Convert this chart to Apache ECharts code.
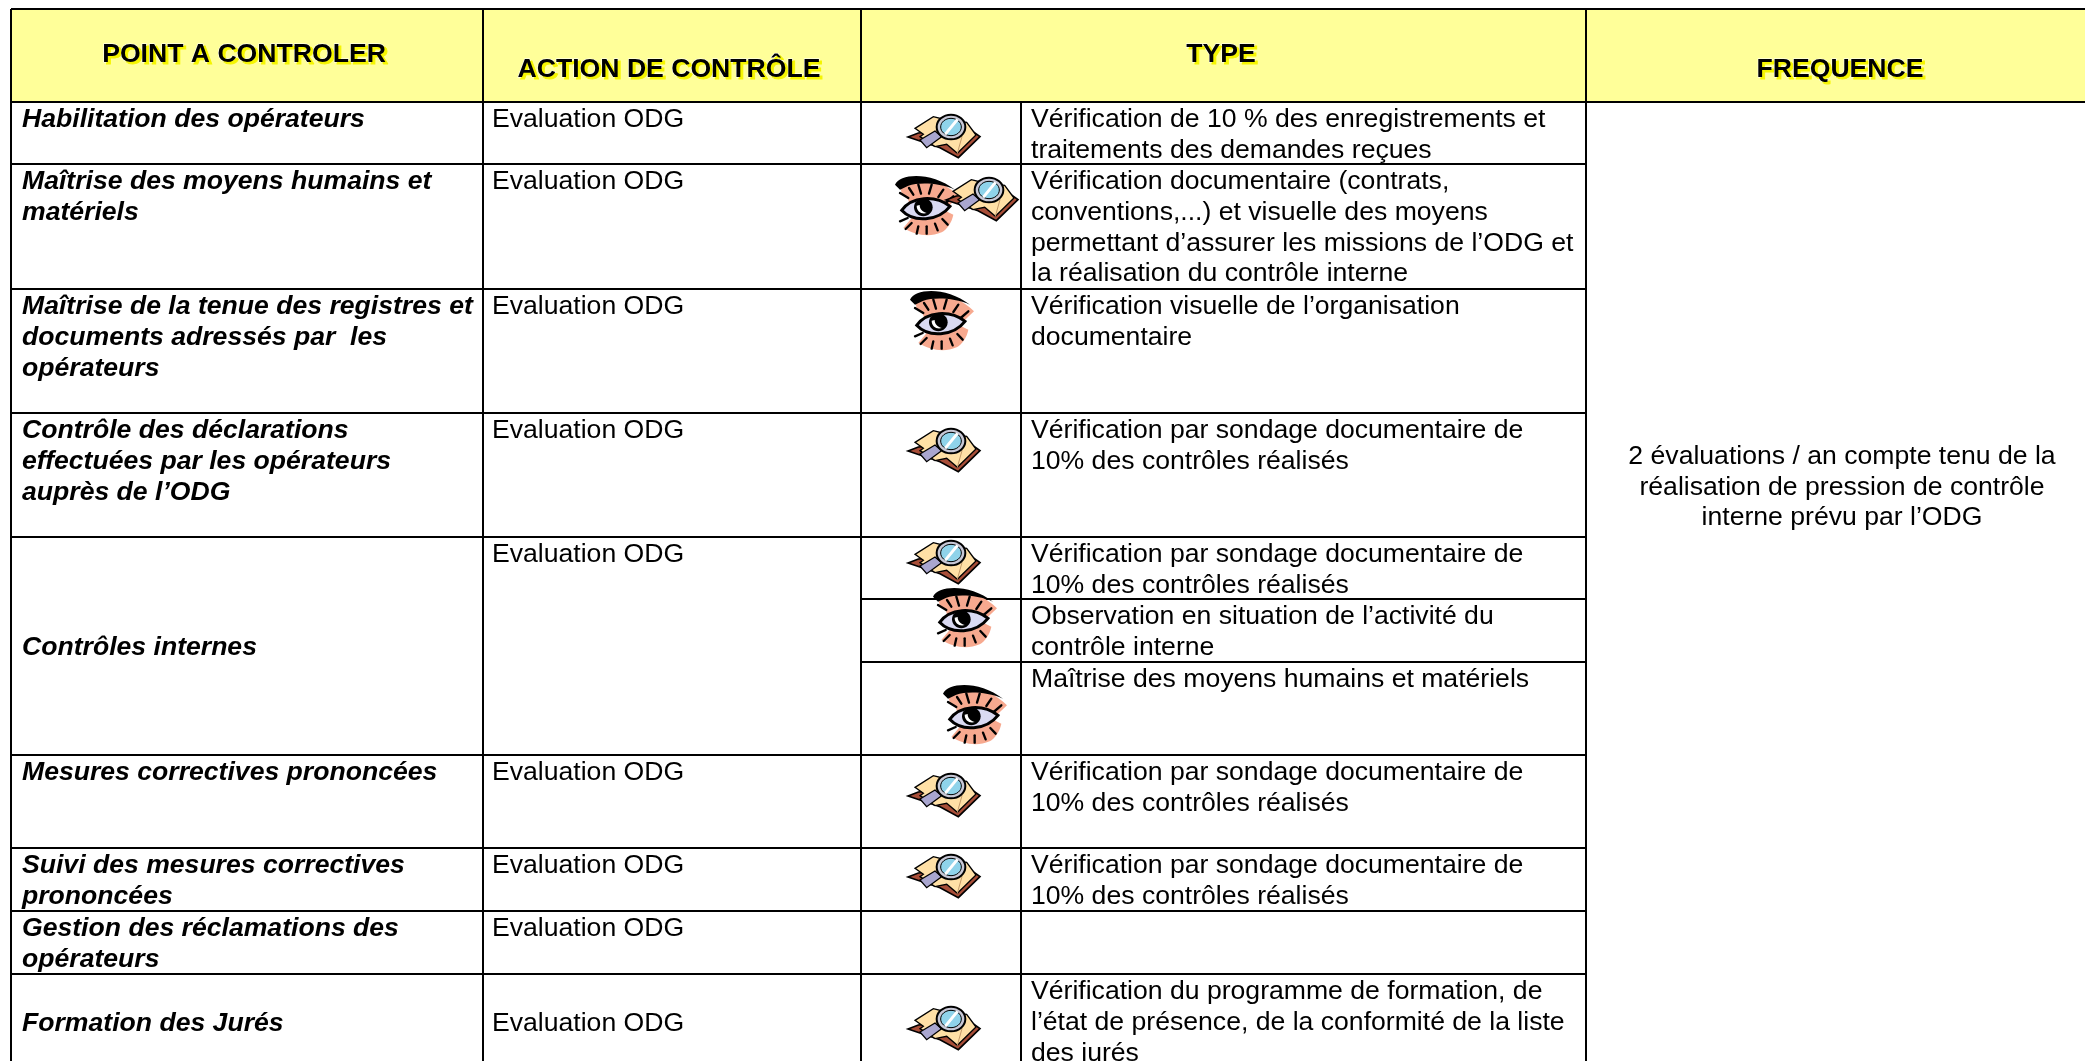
<!DOCTYPE html>
<html>
<head>
<meta charset="utf-8">
<title>Points a controler</title>
<style>
    html, body { margin: 0; padding: 0; background: #fff; }
    #main { width: 2085px; height: 1061px; }
</style>
<script src="https://cdn.jsdelivr.net/npm/echarts@6/dist/echarts.min.js"></script>
</head>
<body>
<div id="main"></div>
<script>
// contenu du tableau
var headers = ['POINT A CONTROLER', 'ACTION DE CONTRÔLE', 'TYPE', 'FREQUENCE'];
var points = [
    'Habilitation des opérateurs',
    'Maîtrise des moyens humains et\nmatériels',
    'Maîtrise de la tenue des registres et\ndocuments adressés par  les\nopérateurs',
    'Contrôle des déclarations\neffectuées par les opérateurs\nauprès de l’ODG',
    'Contrôles internes',
    'Mesures correctives prononcées',
    'Suivi des mesures correctives\nprononcées',
    'Gestion des réclamations des\nopérateurs',
    'Formation des Jurés'
];
var actions = [
    'Evaluation ODG', 'Evaluation ODG', 'Evaluation ODG', 'Evaluation ODG', 'Evaluation ODG',
    'Evaluation ODG', 'Evaluation ODG', 'Evaluation ODG', 'Evaluation ODG'
];
var verifications = [
    'Vérification de 10 % des enregistrements et\ntraitements des demandes reçues',
    'Vérification documentaire (contrats,\nconventions,...) et visuelle des moyens\npermettant d’assurer les missions de l’ODG et\nla réalisation du contrôle interne',
    'Vérification visuelle de l’organisation\ndocumentaire',
    'Vérification par sondage documentaire de\n10% des contrôles réalisés',
    'Vérification par sondage documentaire de\n10% des contrôles réalisés',
    'Observation en situation de l’activité du\ncontrôle interne',
    'Maîtrise des moyens humains et matériels',
    'Vérification par sondage documentaire de\n10% des contrôles réalisés',
    'Vérification par sondage documentaire de\n10% des contrôles réalisés',
    '',
    'Vérification du programme de formation, de\nl’état de présence, de la conformité de la liste\ndes jurés'
];
var typeIcons = [
    ['book'], ['eye', 'book'], ['eye'], ['book'], ['book'], ['eye'], ['eye'], ['book'], ['book'], [], ['book']
];
var frequence = '2 évaluations / an compte tenu de la\nréalisation de pression de contrôle\ninterne prévu par l’ODG';

// mise en page, en pixels de la page
var W = 2085, H = 1061;
var colX = [11, 483, 861, 1021, 1586];
var topY = 9, headY = 102;
var rowY = [102, 164, 289, 413, 537, 755, 848, 911, 974];
var subRowY = [102, 164, 289, 413, 537, 599, 662, 755, 848, 911, 974];
var headPos = [[244, 54.5], [669, 69.5], [1221, 54.5], [1840, 69.5]];
var iconPos = [
    [[909, 114]], [[896, 176], [947, 177]], [[911, 291]], [[909, 428]], [[909, 540]],
    [[934, 588]], [[944, 685]], [[909, 773]], [[909, 854]], [], [[909, 1006]]
];
var LINE = 30.7, FONT = '26.6px "Liberation Sans", Arial, sans-serif';

// traits du tableau
var rules = [
    [colX[0], topY, W, topY], [colX[0], headY, W, headY],
    [colX[0], topY, colX[0], H], [colX[1], topY, colX[1], H], [colX[2], topY, colX[2], H],
    [colX[4], topY, colX[4], H], [colX[3], headY, colX[3], H]
];
rowY.slice(1).forEach(function (y) {
    rules.push([colX[0], y, colX[4], y]);
});
// sous-lignes de la ligne Controles internes, seulement dans la colonne Type
[599, 662].forEach(function (y) {
    rules.push([colX[2], y, colX[4], y]);
});

// textes : une entree par cellule
var cells = [];
function addCell(text, x, y, align, font) {
    if (text) cells.push({text: text, x: x, y: y + 1.5, align: align, font: font});
}
points.forEach(function (t, i) {
    var y = i === 4 ? 646.5 : i === 8 ? 1022 : rowY[i] + 16.5;
    addCell(t, colX[0] + 11, y, 'left', 'italic bold ' + FONT);
});
actions.forEach(function (t, i) {
    var y = i === 8 ? 1022 : rowY[i] + 16.5;
    addCell(t, colX[1] + 9, y, 'left', FONT);
});
verifications.forEach(function (t, i) {
    addCell(t, colX[3] + 10, subRowY[i] + 16.5, 'left', FONT);
});
addCell(frequence, 1842, 455, 'center', FONT);

// dessins des pictogrammes (coordonnees x3, ramenees a l'echelle a la fin)
var OUTLINE = '#000';
function pathPart(d, fill, lw) {
    return {type: 'path', shape: {pathData: d}, style: {fill: fill, stroke: lw ? OUTLINE : null, lineWidth: lw || 0}};
}
function strokePart(x1, y1, x2, y2, color, lw) {
    return {type: 'line', shape: {x1: x1, y1: y1, x2: x2, y2: y2}, style: {stroke: color, lineWidth: lw, lineCap: 'round'}};
}
function ellipsePart(cx, cy, rx, ry, fill, lw) {
    return {type: 'ellipse', shape: {cx: cx, cy: cy, rx: rx, ry: ry}, style: {fill: fill, stroke: lw ? OUTLINE : null, lineWidth: lw || 0}};
}
function bookParts() {
    return [
        pathPart('M24 96 L55 84 L205 70 L240 95 L175 158 L120 128 Z', '#A84E38', 5),
        pathPart('M45 70 L100 35 L140 45 L200 52 L228 90 L172 145 L140 118 L105 125 L60 95 L70 88 Z', '#FFE0A6', 4),
        strokePart(172, 145, 186, 95, '#C49A6A', 3),
        pathPart('M60 105 L105 78 L125 95 L80 128 Z', '#A9A6CF', 4),
        ellipsePart(153, 66, 43, 37, '#C8C8D6', 6),
        ellipsePart(153, 66, 31, 26, '#8FD3EA', 3),
        strokePart(138, 85, 170, 46, '#fff', 9)
    ];
}
function eyeParts() {
    var parts = [
        pathPart('M45 40 C90 10 170 15 222 70 L178 112 L205 125 C200 150 185 170 170 178 C130 195 90 185 55 165 L80 135 L70 80 L50 60 Z', '#F7A98F'),
        pathPart('M30 35 C45 0 140 -5 210 50 C160 28 100 28 70 38 L45 50 Z', '#000'),
        pathPart('M50 112 C80 70 150 65 195 100 C160 145 85 150 50 112 Z', '#DADAF2', 9),
        ellipsePart(115, 103, 28, 27, '#000'),
        pathPart('M95 98 C95 115 110 125 125 120 C112 116 104 108 104 96 Z', '#fff')
    ];
    var lashes = [
        [45, 60, 70, 75], [72, 45, 85, 65], [100, 35, 108, 62], [140, 35, 132, 62], [175, 50, 160, 72], [205, 70, 182, 90],
        [45, 145, 68, 135], [62, 168, 80, 150], [95, 182, 100, 160], [125, 182, 125, 160], [158, 172, 150, 152], [188, 155, 172, 138]
    ];
    lashes.forEach(function (l) {
        parts.push(strokePart(l[0], l[1], l[2], l[3], '#000', 7));
    });
    return parts;
}

var icons = [];
typeIcons.forEach(function (row, i) {
    row.forEach(function (name, j) {
        icons.push({name: name, x: iconPos[i][j][0], y: iconPos[i][j][1]});
    });
});

var myChart = echarts.init(document.getElementById('main'));
var option = {
    animation: false,
    backgroundColor: '#fff',
    grid: {left: 0, right: 0, top: 0, bottom: 0},
    xAxis: {type: 'value', min: 0, max: W, show: false},
    yAxis: {type: 'value', min: 0, max: H, inverse: true, show: false},
    series: [
        {
            // fond jaune de l'entete
            type: 'custom',
            silent: true,
            z: 1,
            data: [[colX[0], topY, W, headY]],
            renderItem: function (params, api) {
                var a = api.coord([api.value(0), api.value(1)]);
                var b = api.coord([api.value(2), api.value(3)]);
                return {type: 'rect', shape: {x: a[0], y: a[1], width: b[0] - a[0], height: b[1] - a[1]}, style: {fill: '#FFFF99'}};
            }
        },
        {
            type: 'custom',
            silent: true,
            z: 2,
            data: rules,
            renderItem: function (params, api) {
                var a = api.coord([api.value(0), api.value(1)]);
                var b = api.coord([api.value(2), api.value(3)]);
                return {type: 'line', shape: {x1: a[0], y1: a[1], x2: b[0], y2: b[1]}, style: {stroke: '#000', lineWidth: 2}};
            }
        },
        {
            // titres de colonnes, ombre jaune et liseré blanc
            type: 'custom',
            silent: true,
            z: 4,
            data: headPos,
            renderItem: function (params, api) {
                var p = api.coord([api.value(0), api.value(1)]);
                return {
                    type: 'text',
                    x: p[0],
                    y: p[1],
                    style: {
                        text: headers[params.dataIndex],
                        font: 'bold ' + FONT,
                        fill: '#000',
                        stroke: '#fff',
                        lineWidth: 1,
                        textShadowColor: '#F5F500',
                        textShadowOffsetX: 2.5,
                        textShadowOffsetY: 2.5,
                        textShadowBlur: 0.5,
                        textAlign: 'center',
                        textVerticalAlign: 'middle'
                    }
                };
            }
        },
        {
            type: 'custom',
            silent: true,
            z: 4,
            data: cells.map(function (c) { return [c.x, c.y]; }),
            renderItem: function (params, api) {
                var c = cells[params.dataIndex];
                var p = api.coord([api.value(0), api.value(1)]);
                return {
                    type: 'group',
                    children: c.text.split('\n').map(function (line, k) {
                        return {
                            type: 'text',
                            x: p[0],
                            y: p[1] + k * LINE,
                            style: {text: line, font: c.font, fill: '#000', textAlign: c.align, textVerticalAlign: 'middle'}
                        };
                    })
                };
            }
        },
        {
            // pictogrammes, ils passent par dessus les traits
            type: 'custom',
            silent: true,
            z: 3,
            data: icons.map(function (c) { return [c.x, c.y]; }),
            renderItem: function (params, api) {
                var ic = icons[params.dataIndex];
                var p = api.coord([api.value(0), api.value(1)]);
                var isBook = ic.name === 'book';
                return {
                    type: 'group',
                    x: p[0] - (isBook ? 9 : 11),
                    y: p[1] - (isBook ? 9 : 3),
                    scaleX: 1 / 3,
                    scaleY: 1 / 3,
                    children: isBook ? bookParts() : eyeParts()
                };
            }
        }
    ]
};
myChart.setOption(option);
</script>
</body>
</html>
